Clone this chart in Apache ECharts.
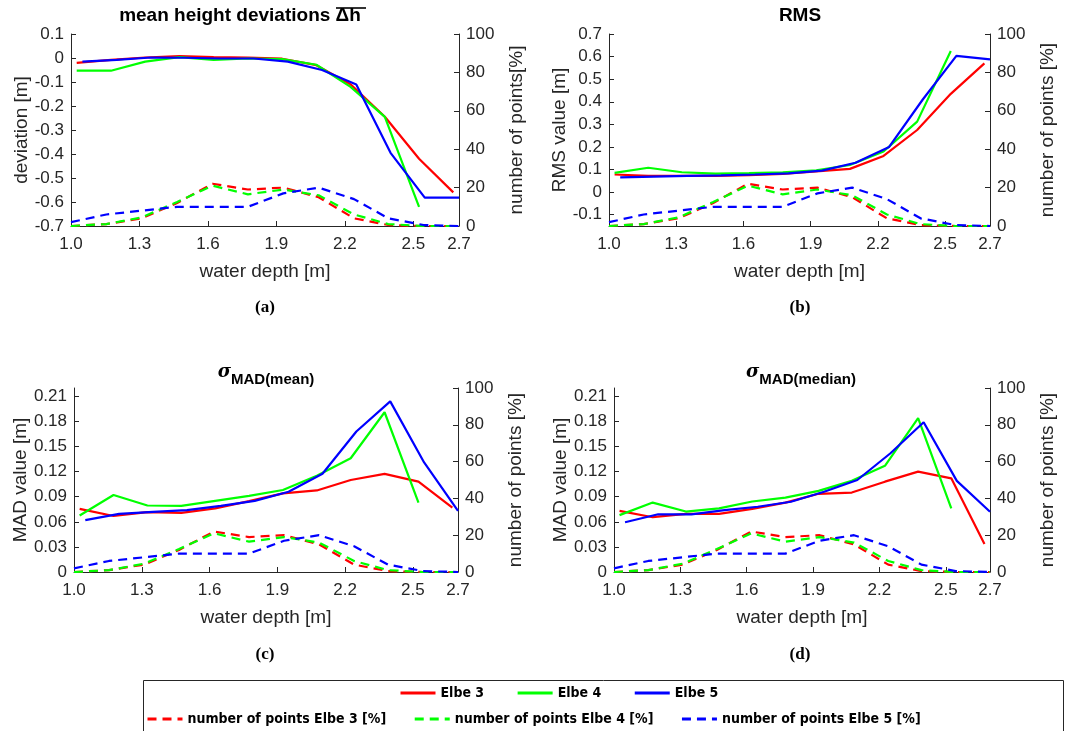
<!DOCTYPE html>
<html>
<head>
<meta charset="utf-8">
<script src="https://cdn.jsdelivr.net/npm/echarts@6/dist/echarts.min.js"></script>
<style>html,body{margin:0;padding:0;background:#fff}#c{width:1067px;height:731px}</style>
</head>
<body>
<div id="c"></div>
<script>
// x positions (water depth [m]) of the bins
const xE3E4 = [1.025, 1.175, 1.325, 1.475, 1.625, 1.775, 1.925, 2.075, 2.225, 2.375, 2.525, 2.675];
const xE5   = [1.05, 1.20, 1.35, 1.50, 1.65, 1.80, 1.95, 2.10, 2.25, 2.40, 2.55, 2.70];
const xPts  = [1.0, 1.155, 1.31, 1.465, 1.62, 1.775, 1.93, 2.085, 2.24, 2.39, 2.545, 2.70];
const xTicks = [1.0, 1.3, 1.6, 1.9, 2.2, 2.5, 2.7];

// (a) mean height deviations [m]
const meanE3 = [-0.02, -0.008, 0.002, 0.008, 0.004, 0.002, -0.003, -0.03, -0.11, -0.245, -0.42, -0.56];
const meanE4 = [-0.053, -0.053, -0.015, 0.004, -0.008, -0.002, -0.005, -0.028, -0.12, -0.245, -0.62];
const meanE5 = [-0.015, -0.008, 0.002, 0.001, -0.002, -0.002, -0.015, -0.05, -0.11, -0.395, -0.582, -0.582];

// (b) RMS [m]
const rmsE3 = [0.078, 0.072, 0.072, 0.072, 0.075, 0.081, 0.092, 0.103, 0.16, 0.275, 0.435, 0.57];
const rmsE4 = [0.085, 0.108, 0.088, 0.082, 0.084, 0.088, 0.096, 0.12, 0.18, 0.312, 0.625];
const rmsE5 = [0.065, 0.069, 0.072, 0.074, 0.078, 0.083, 0.095, 0.13, 0.2, 0.41, 0.603, 0.588];

// (c) sigma MAD(mean) [m]
const madMeanE3 = [0.0755, 0.067, 0.0715, 0.0707, 0.076, 0.0847, 0.094, 0.0975, 0.110, 0.1174, 0.108, 0.077];
const madMeanE4 = [0.0675, 0.092, 0.0795, 0.079, 0.085, 0.091, 0.098, 0.115, 0.136, 0.191, 0.083];
const madMeanE5 = [0.062, 0.0695, 0.072, 0.074, 0.079, 0.085, 0.096, 0.1174, 0.168, 0.204, 0.131, 0.073];

// (d) sigma MAD(median) [m]
const madMedE3 = [0.073, 0.0655, 0.0695, 0.0695, 0.0755, 0.083, 0.0935, 0.095, 0.108, 0.120, 0.112, 0.0335];
const madMedE4 = [0.068, 0.083, 0.0723, 0.076, 0.0843, 0.089, 0.097, 0.109, 0.127, 0.184, 0.076];
const madMedE5 = [0.0595, 0.069, 0.069, 0.074, 0.078, 0.084, 0.096, 0.110, 0.142, 0.179, 0.109, 0.072];

// number of points [%]
const ptsE3 = [0, 1, 4, 12, 22, 19, 20, 15, 4, 0.5, 0, 0];
const ptsE4 = [0, 1, 4.5, 12.5, 21, 16.5, 19, 16, 6, 1, 0, 0];
const ptsE5 = [2, 6, 8, 10, 10, 10, 17, 20, 14, 4, 0.5, 0];

const yTicksA = [-0.7, -0.6, -0.5, -0.4, -0.3, -0.2, -0.1, 0, 0.1];
const yTicksB = [-0.1, 0, 0.1, 0.2, 0.3, 0.4, 0.5, 0.6, 0.7];
const yTicksMAD = [0, 0.03, 0.06, 0.09, 0.12, 0.15, 0.18, 0.21];
const pctTicks = [0, 20, 40, 60, 80, 100];

const names = ['Elbe 3', 'Elbe 4', 'Elbe 5'];
const ptsNames = ['number of points Elbe 3 [%]', 'number of points Elbe 4 [%]', 'number of points Elbe 5 [%]'];
const colors = ['#ff0000', '#00ff00', '#0000ff'];

const pair = (xs, ys) => ys.map((v, i) => [xs[i], v]);
const FONT = '"Liberation Sans", Arial, Helvetica, sans-serif';
const TXT = '#262626';

const panels = [
  { grid: {left: 71, top: 34, width: 388, height: 192}, min: -0.7, max: 0.1, interval: 0.1, ticks: yTicksA, dec: 1,
    yName: 'deviation [m]', rName: 'number of points[%]', data: [meanE3, meanE4, meanE5] },
  { grid: {left: 609, top: 34, width: 381, height: 192}, min: -0.15, max: 0.7, interval: 0.05, ticks: yTicksB, dec: 1,
    yName: 'RMS value [m]', rName: 'number of points [%]', data: [rmsE3, rmsE4, rmsE5] },
  { grid: {left: 74, top: 388, width: 384, height: 184}, min: 0, max: 0.22, interval: 0.01, ticks: yTicksMAD, dec: 2,
    yName: 'MAD value [m]', rName: 'number of points [%]', data: [madMeanE3, madMeanE4, madMeanE5] },
  { grid: {left: 614, top: 388, width: 376, height: 184}, min: 0, max: 0.22, interval: 0.01, ticks: yTicksMAD, dec: 2,
    yName: 'MAD value [m]', rName: 'number of points [%]', data: [madMedE3, madMedE4, madMedE5] }
];

const axisLine = {show: true, onZero: false, lineStyle: {color: TXT, width: 1}};
const grids = [], xAxes = [], yAxes = [], series = [];
panels.forEach((p, k) => {
  grids.push(Object.assign({outerBoundsMode: 'none', containLabel: false}, p.grid));
  xAxes.push({
    type: 'value', gridIndex: k, min: 1.0, max: 2.7,
    axisLine: axisLine, splitLine: {show: false},
    axisTick: {inside: true, length: 5, customValues: xTicks, lineStyle: {color: TXT}},
    axisLabel: {customValues: xTicks, formatter: v => v.toFixed(1), fontSize: 17, fontFamily: FONT, color: TXT, margin: 10},
    name: 'water depth [m]', nameLocation: 'middle', nameGap: 36,
    nameTextStyle: {fontSize: 19, fontFamily: FONT, color: TXT}
  });
  yAxes.push({
    type: 'value', gridIndex: k, position: 'left', min: p.min, max: p.max, interval: p.interval,
    axisLine: axisLine, splitLine: {show: false},
    axisTick: {inside: true, length: 5, customValues: p.ticks, lineStyle: {color: TXT}},
    axisLabel: {customValues: p.ticks, formatter: v => String(+v.toFixed(p.dec)), fontSize: 17, fontFamily: FONT, color: TXT, margin: 7},
    name: p.yName, nameLocation: 'middle', nameGap: 39,
    nameTextStyle: {fontSize: 19, fontFamily: FONT, color: TXT}
  });
  yAxes.push({
    type: 'value', gridIndex: k, position: 'right', min: 0, max: 100, interval: 20,
    axisLine: axisLine, splitLine: {show: false},
    axisTick: {inside: true, length: 5, customValues: pctTicks, lineStyle: {color: TXT}},
    axisLabel: {customValues: pctTicks, fontSize: 17, fontFamily: FONT, color: TXT, margin: 7},
    name: p.rName, nameLocation: 'middle', nameGap: 48,
    nameTextStyle: {fontSize: 19, fontFamily: FONT, color: TXT}
  });
  const xs = [xE3E4, xE3E4, xE5];
  const pts = [ptsE3, ptsE4, ptsE5];
  for (let j = 0; j < 3; j++) {
    series.push({
      type: 'line', name: ptsNames[j], xAxisIndex: k, yAxisIndex: 2 * k + 1,
      data: pair(xPts, pts[j]), symbol: 'none', silent: true, animation: false,
      lineStyle: {color: colors[j], width: 2.2, type: [9, 6]}, itemStyle: {color: colors[j]}, z: 2
    });
  }
  for (let j = 0; j < 3; j++) {
    series.push({
      type: 'line', name: names[j], xAxisIndex: k, yAxisIndex: 2 * k,
      data: pair(xs[j], p.data[j]), symbol: 'none', silent: true, animation: false,
      lineStyle: {color: colors[j], width: 2.2}, itemStyle: {color: colors[j]}, z: 3
    });
  }
});

const LEG_FONT = '"DejaVu Sans Condensed", "Liberation Sans Narrow", "Roboto Condensed", "DejaVu Sans", sans-serif';
const legText = {fontSize: 14, fontWeight: 'bold', fontFamily: LEG_FONT, color: '#000'};
const legHidden = {color: 'transparent', borderColor: 'transparent', borderWidth: 0, opacity: 0};

const option = {
  backgroundColor: '#fff',
  animation: false,
  title: [
    {text: 'mean height deviations Δh', left: 240, textAlign: 'center', top: 6, padding: 0,
     textStyle: {fontSize: 19, fontWeight: 'bold', fontFamily: FONT, color: '#000'}},
    {text: 'RMS', left: 800, textAlign: 'center', top: 6, padding: 0,
     textStyle: {fontSize: 19, fontWeight: 'bold', fontFamily: FONT, color: '#000'}},
    {text: '{s|σ}{m|MAD(mean)}', left: 266, textAlign: 'center', top: 363, padding: 0,
     textStyle: {rich: {
       s: {fontSize: 18, fontStyle: 'italic', fontFamily: '"DejaVu Serif", serif', color: '#000', verticalAlign: 'top', lineHeight: 24},
       m: {fontSize: 15, fontWeight: 'bold', fontFamily: FONT, color: '#000', verticalAlign: 'bottom', lineHeight: 24}}}},
    {text: '{s|σ}{m|MAD(median)}', left: 801, textAlign: 'center', top: 363, padding: 0,
     textStyle: {rich: {
       s: {fontSize: 18, fontStyle: 'italic', fontFamily: '"DejaVu Serif", serif', color: '#000', verticalAlign: 'top', lineHeight: 24},
       m: {fontSize: 15, fontWeight: 'bold', fontFamily: FONT, color: '#000', verticalAlign: 'bottom', lineHeight: 24}}}}
  ],
  legend: [
    {data: names, left: 399, top: 686, itemWidth: 35, itemHeight: 12, itemGap: 32, padding: 0,
     selectedMode: false, textStyle: legText, itemStyle: legHidden, lineStyle: {width: 3}},
    {data: ptsNames, left: 146, top: 712, itemWidth: 35, itemHeight: 12, itemGap: 27, padding: 0,
     selectedMode: false, textStyle: legText, itemStyle: legHidden, lineStyle: {width: 3}}
  ],
  grid: grids,
  xAxis: xAxes,
  yAxis: yAxes,
  series: series,
  graphic: [
    {type: 'rect', shape: {x: 143.5, y: 680.5, width: 920, height: 60}, style: {fill: 'none', stroke: '#262626', lineWidth: 1}, z: -1},
    {type: 'line', shape: {x1: 336, y1: 8, x2: 366, y2: 8}, style: {stroke: '#000', lineWidth: 1.6}},
    {type: 'text', x: 265, y: 308, style: {text: '(a)', font: 'bold 17px "Liberation Serif", "DejaVu Serif", serif', fill: '#000', align: 'center', verticalAlign: 'middle'}},
    {type: 'text', x: 800, y: 308, style: {text: '(b)', font: 'bold 17px "Liberation Serif", "DejaVu Serif", serif', fill: '#000', align: 'center', verticalAlign: 'middle'}},
    {type: 'text', x: 265, y: 655, style: {text: '(c)', font: 'bold 17px "Liberation Serif", "DejaVu Serif", serif', fill: '#000', align: 'center', verticalAlign: 'middle'}},
    {type: 'text', x: 800, y: 655, style: {text: '(d)', font: 'bold 17px "Liberation Serif", "DejaVu Serif", serif', fill: '#000', align: 'center', verticalAlign: 'middle'}}
  ]
};

const chart = echarts.init(document.getElementById('c'), null, {renderer: 'canvas'});
chart.setOption(option);
</script>
</body>
</html>
